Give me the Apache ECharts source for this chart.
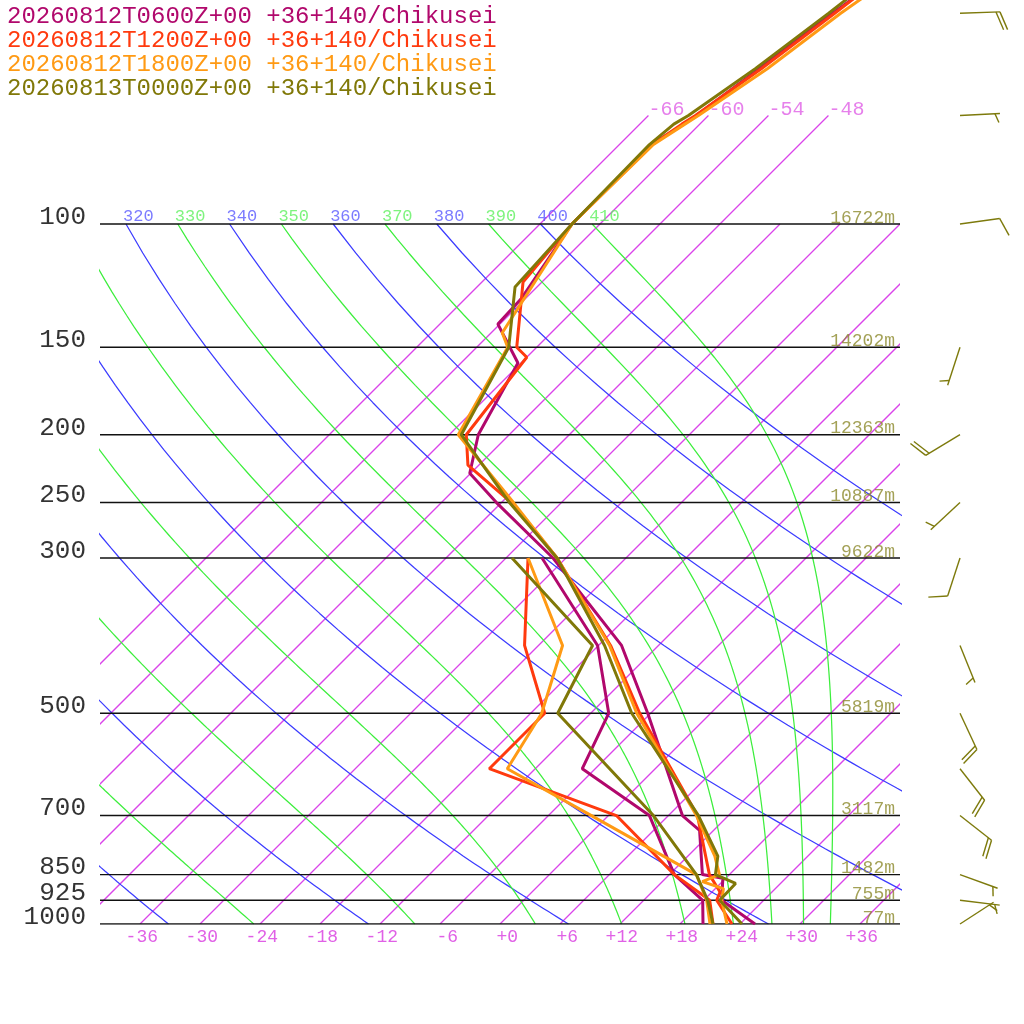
<!DOCTYPE html>
<html>
<head>
<meta charset="utf-8">
<script src="https://cdn.jsdelivr.net/npm/echarts@6/dist/echarts.min.js"></script>
<style>
html, body { margin: 0; padding: 0; background: #fff; }
#main { width: 1024px; height: 1024px; }
</style>
</head>
<body>
<div id="main"></div>
<script>
// runs
var runNames = ['20260812T0600Z+00', '20260812T1200Z+00', '20260812T1800Z+00', '20260813T0000Z+00'];
var place = '+36+140/Chikusei';
var runColors = ['#b1086c', '#ff3a0e', '#ff9a14', '#807808'];

// 0600 temperature / dewpoint
var presA = [1000, 925, 860, 850, 735, 700, 500, 400, 300, 250, 227, 200, 158, 139, 128, 100, 77, 72, 70, 60, 50, 30];
var tempA = [25.5, 19.8, 17.7, 15.3, 10.6, 7.4, -6.3, -15.7, -31.3, -42.5, -48.1, -51.1, -54.3, -60.2, -60.4, -62.8, -62.8, -61.6, -61.2, -59.6, -57.8, -52];
var dewPresA = [1000, 925, 850, 700, 600, 500, 400, 300];
var dewA = [20.3, 17.9, 12.5, 4.1, -7.3, -10.2, -18.1, -32.4];

// 1200
var presB = [1000, 925, 900, 850, 700, 500, 400, 300, 250, 221, 200, 155, 150, 121, 100, 77, 72, 70, 60, 50, 30];
var tempB = [23.2, 19.3, 18.8, 16.0, 8.9, -7.1, -16.8, -30.9, -41.0, -49.1, -52.3, -54.0, -56.0, -61.9, -62.8, -62.7, -61.8, -61.3, -59.4, -57.6, -53];
var dewPresB = [1000, 925, 850, 700, 600, 500, 400, 300];
var dewB = [21.3, 18.6, 12.5, 0.8, -16.6, -16.6, -25.4, -33.8];

// 1800
var presC = [1000, 925, 890, 870, 850, 800, 700, 500, 400, 300, 250, 200, 150, 143, 100, 77, 72, 70, 60, 50, 30];
var tempC = [22.7, 19.8, 18.8, 16.0, 17.0, 14.7, 8.8, -7.4, -16.9, -30.9, -40.8, -53.1, -56.9, -58.9, -62.8, -62.6, -61.5, -61.0, -58.8, -57.0, -50.5];
var dewPresC = [1000, 925, 850, 700, 600, 500, 400, 300];
var dewC = [21.0, 18.3, 14.7, -1.7, -14.8, -16.9, -21.6, -33.8];

// 0000
var presD = [1000, 925, 875, 850, 800, 700, 500, 400, 300, 250, 200, 150, 123, 100, 77, 72, 70, 60, 50, 30];
var tempD = [24.2, 19.6, 19.5, 16.6, 15.0, 9.0, -7.9, -17.4, -30.9, -41.2, -52.8, -56.8, -62.2, -62.8, -63.0, -62.6, -62.0, -60.0, -58.2, -54];
var dewPresD = [1000, 925, 850, 700, 500, 400, 300];
var dewD = [21.3, 18.4, 14.7, 4.5, -15.3, -18.6, -35.4];

// wind (last run)
var windPres = [50, 70, 100, 150, 200, 250, 300, 400, 500, 600, 700, 850, 925, 1000];
var windDir = [88, 87, 82, 198, 239, 227, 198, 158, 155, 142, 128, 110, 97, 57];
var windKt = [20, 5, 10, 5, 20, 5, 10, 5, 20, 20, 20, 5, 5, 5];

// diagram grid
var isobars = [100, 150, 200, 250, 300, 500, 700, 850, 925, 1000];
var heightLabels = ['16722m', '14202m', '12363m', '10887m', '9622m', '5819m', '3117m', '1482m', '755m', '77m'];
var isotherms = [-66, -60, -54, -48, -42, -36, -30, -24, -18, -12, -6, 0, 6, 12, 18, 24, 30, 36];
var isothermLabelled = [-66, -60, -54, -48];
var dryThetas = [240, 260, 280, 300, 320, 340, 360, 380, 400];
var moistThetas = [250, 270, 290, 310, 330, 350, 370, 390, 410];
var tempTicks = [-36, -30, -24, -18, -12, -6, 0, 6, 12, 18, 24, 30, 36];

var FONT = 'Liberation Mono';
var SKEW = 70;      // x shift per decade of pressure
var LABEL_SHIFT = 1.8;
var ISO_COLOR = '#da44ea';

// temperature/pressure -> skewed chart coords
function sk(t, p) {
    var lp = Math.log10(p);
    return [t + SKEW * (3 - lp), lp];
}

function profile(pres, temps) {
    return pres.map(function (p, i) { return sk(temps[i], p); });
}

function dryLine(th) {
    var pts = [];
    for (var p = 100; p <= 1000; p += 10) {
        pts.push(sk(th * Math.pow(p / 1000, 0.2857) - 273.15, p));
    }
    return pts;
}

// pseudo-adiabatic lapse rate dT/dp (K/hPa)
function moistRate(t, p) {
    var tc = t - 273.15;
    var es = 6.112 * Math.exp(17.67 * tc / (tc + 243.5));
    var rs = 0.622 * es / (p - es);
    var lv = 2.501e6;
    return (287.04 * t + lv * rs) / (1005.7 + lv * lv * rs * 0.622 / (287.04 * t * t)) / p;
}

function moistLine(th) {
    var t = th * Math.pow(0.1, 0.2857);
    var pts = [sk(t - 273.15, 100)];
    var h = 5;
    for (var p = 100; p < 1000; p += h) {
        var k1 = moistRate(t, p);
        var k2 = moistRate(t + h / 2 * k1, p + h / 2);
        var k3 = moistRate(t + h / 2 * k2, p + h / 2);
        var k4 = moistRate(t + h * k3, p + h);
        t += h / 6 * (k1 + 2 * k2 + 2 * k3 + k4);
        pts.push(sk(t - 273.15, p + h));
    }
    return pts;
}

var series = [];

function addLine(data, color, width, z) {
    series.push({
        type: 'line',
        data: data,
        symbol: 'none',
        silent: true,
        z: z,
        itemStyle: { color: color },
        lineStyle: { color: color, width: width }
    });
}

function addLabels(data, color, size, pos, align, z, clip) {
    series.push({
        type: 'scatter',
        data: data,
        symbolSize: 0,
        silent: true,
        clip: clip,
        z: z,
        label: {
            show: true,
            position: pos,
            align: align,
            verticalAlign: 'bottom',
            lineHeight: Math.round(size * 0.55),
            formatter: function (p) { return p.name; },
            color: color,
            fontSize: size,
            fontFamily: FONT
        }
    });
}

// isotherms, drawn as a custom series clipped to the grid
series.push({
    type: 'custom',
    silent: true,
    clip: true,
    z: 1,
    data: isotherms.map(function (t) {
        return [t, isothermLabelled.indexOf(t) >= 0 ? 70 : 100];
    }),
    renderItem: function (params, api) {
        var t = api.value(0), top = api.value(1);
        var a = api.coord(sk(t, 1000));
        var b = api.coord(sk(t, top));
        return {
            type: 'line',
            shape: { x1: a[0], y1: a[1], x2: b[0], y2: b[1] },
            style: { stroke: ISO_COLOR, lineWidth: 1.3 }
        };
    }
});

// dry and moist adiabats
dryThetas.forEach(function (th) { addLine(dryLine(th), '#3c3cff', 1.25, 1); });
moistThetas.forEach(function (th) { addLine(moistLine(th), '#3dee3d', 1.25, 1); });

// isobars
isobars.forEach(function (p) {
    addLine([[-40, Math.log10(p)], [40, Math.log10(p)]], '#111', 1.4, 2);
});

// labels of adiabats, isotherms, heights, pressures
var thetaLabelData = [];
dryThetas.concat(moistThetas).forEach(function (th) {
    var pt = sk(th * Math.pow(0.1, 0.2857) - 273.15, 100);
    thetaLabelData.push({
        name: String(th),
        value: pt,
        label: { color: dryThetas.indexOf(th) >= 0 ? '#5a5aff' : '#5ef05e' }
    });
});
addLabels(thetaLabelData, '#5a5aff', 17, [-3, -3], 'left', 3, true);

addLabels(isothermLabelled.map(function (t) {
    return { name: String(t), value: sk(t, 70) };
}), '#e060e6', 20, [0, 0], 'left', 3, false);

addLabels(isobars.map(function (p, i) {
    return { name: heightLabels[i], value: [39.5, Math.log10(p)] };
}), '#8c8a2c', 18, [0, -1], 'right', 3, false);

addLabels(isobars.map(function (p) {
    return { name: String(p), value: [-40, Math.log10(p)] };
}), '#000', 26, [-14, 0], 'right', 3, false);

// profiles
var runs = [
    [presA, tempA, dewPresA, dewA],
    [presB, tempB, dewPresB, dewB],
    [presC, tempC, dewPresC, dewC],
    [presD, tempD, dewPresD, dewD]
];
runs.forEach(function (r, i) {
    addLine(profile(r[0], r[1]), runColors[i], 3, 5 + i);
    addLine(profile(r[2], r[3]), runColors[i], 3, 5 + i);
});

// wind barbs
function renderBarb(params, api) {
    var o = api.coord([api.value(0), api.value(1)]);
    var a = api.value(2) * Math.PI / 180;
    var spd = api.value(3);
    var d = [Math.sin(a), -Math.cos(a)];
    var n = [-d[1], d[0]];
    var L = 40;
    var style = { stroke: '#7d7a0c', lineWidth: 1.4 };
    var kids = [{
        type: 'line',
        shape: { x1: o[0], y1: o[1], x2: o[0] + L * d[0], y2: o[1] + L * d[1] },
        style: style
    }];
    var n10 = Math.floor(spd / 10);
    var n5 = Math.round((spd - n10 * 10) / 5);
    var pos = L;
    for (var i = 0; i < n10; i++) {
        var bx = o[0] + pos * d[0], by = o[1] + pos * d[1];
        kids.push({
            type: 'line',
            shape: { x1: bx, y1: by, x2: bx + 18 * n[0] + 7 * d[0], y2: by + 18 * n[1] + 7 * d[1] },
            style: style
        });
        pos -= 4;
    }
    if (n5) {
        if (n10 === 0) pos -= 5;
        var sx = o[0] + pos * d[0], sy = o[1] + pos * d[1];
        kids.push({
            type: 'line',
            shape: { x1: sx, y1: sy, x2: sx + 9 * n[0] + 3.5 * d[0], y2: sy + 9 * n[1] + 3.5 * d[1] },
            style: style
        });
    }
    return { type: 'group', children: kids };
}

series.push({
    type: 'custom',
    renderItem: renderBarb,
    clip: false,
    silent: true,
    z: 10,
    data: windPres.map(function (p, i) { return [46, Math.log10(p), windDir[i], windKt[i]]; })
});

var titles = runNames.map(function (name, i) {
    return {
        text: name + ' ' + place,
        left: 7,
        top: 5 + 24 * i,
        padding: 0,
        textStyle: { color: runColors[i], fontSize: 24, fontWeight: 'normal', fontFamily: FONT }
    };
});

var myChart = echarts.init(document.getElementById('main'), null, { renderer: 'canvas' });

var option = {
    animation: false,
    backgroundColor: '#fff',
    title: titles,
    grid: { left: 100, right: 124, top: 0, bottom: 100 },
    xAxis: {
        type: 'value',
        min: -40,
        max: 40,
        axisLine: { show: false },
        axisTick: { show: false },
        splitLine: { show: false },
        axisLabel: {
            customValues: tempTicks.map(function (t) { return t + LABEL_SHIFT; }),
            formatter: function (v) {
                var t = Math.round(v - LABEL_SHIFT);
                return t >= 0 ? '+' + t : String(t);
            },
            align: 'right',
            margin: 4,
            color: '#e060e6',
            fontSize: 18,
            fontFamily: FONT
        }
    },
    yAxis: {
        type: 'value',
        min: 1.68,
        max: 3,
        inverse: true,
        axisLine: { show: false },
        axisTick: { show: false },
        splitLine: { show: false },
        axisLabel: { show: false }
    },
    series: series
};

myChart.setOption(option);
window.addEventListener('resize', myChart.resize);
</script>
</body>
</html>
